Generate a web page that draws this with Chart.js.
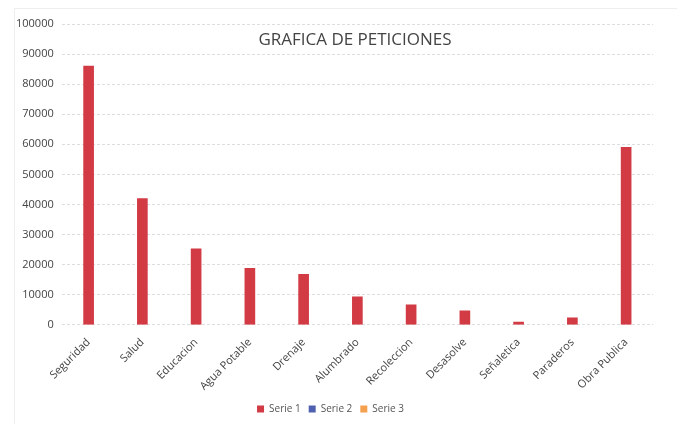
<!DOCTYPE html>
<html lang="es">
<head>
<meta charset="UTF-8">
<title>Grafica de peticiones</title>
<style>
  body { margin: 0; background: #fff; }
  .marco { position: relative; width: 681px; height: 428px; }
  .marco::before { content: ""; position: absolute; left: 14px; top: 8px; right: 4px; bottom: 4px; border-left: 1px solid #eee; border-top: 1px solid #eee; }
</style>
</head>
<body>
<div class="marco">
  <canvas id="grafica" width="681" height="428"></canvas>
</div>

<script src="https://cdn.jsdelivr.net/npm/chart.js"></script>
<script>
  const categorias = ['Seguridad', 'Salud', 'Educacion', 'Agua Potable', 'Drenaje', 'Alumbrado', 'Recoleccion', 'Desasolve', 'Señaletica', 'Paraderos', 'Obra Publica'];
  const serie1 = [86000, 42000, 25300, 18800, 16800, 9300, 6700, 4700, 900, 2300, 59000];
  const serie2 = [null, null, null, null, null, null, null, null, null, null, null];
  const serie3 = [null, null, null, null, null, null, null, null, null, null, null];
  const ticksY = [0, 10000, 20000, 30000, 40000, 50000, 60000, 70000, 80000, 90000, 100000];

  // titulo dentro del area del grafico
  const tituloPlugin = {
    id: 'tituloDentro',
    afterDraw(chart) {
      const c = chart.ctx;
      c.save();
      c.font = '17px "Open Sans", sans-serif';
      c.fillStyle = '#444';
      c.textAlign = 'center';
      c.textBaseline = 'middle';
      c.fillText('GRAFICA DE PETICIONES', 355, 40);
      c.restore();
    }
  };

  new Chart(document.getElementById('grafica'), {
    type: 'bar',
    data: {
      labels: categorias,
      datasets: [
        { label: 'Serie 1', data: serie1, backgroundColor: '#d23a44', grouped: false, barThickness: 10 },
        { label: 'Serie 2', data: serie2, backgroundColor: '#5060b0', grouped: false, barThickness: 10 },
        { label: 'Serie 3', data: serie3, backgroundColor: '#f5a04e', grouped: false, barThickness: 10 }
      ]
    },
    plugins: [tituloPlugin],
    options: {
      responsive: false,
      animation: false,
      layout: { padding: { top: 24, right: 28, left: 8, bottom: 4 } },
      plugins: {
        title: { display: false },
        tooltip: { enabled: false },
        legend: {
          position: 'bottom',
          labels: {
            boxWidth: 7, boxHeight: 7, padding: 8,
            color: '#555',
            font: { family: '"Open Sans", sans-serif', size: 10 }
          }
        }
      },
      scales: {
        x: {
          grid: { display: false },
          border: { display: false },
          ticks: {
            minRotation: 45, maxRotation: 45,
            color: '#444',
            font: { family: '"Open Sans", sans-serif', size: 11 }
          }
        },
        y: {
          min: 0, max: 100000,
          afterBuildTicks(axis) { axis.ticks = ticksY.map(v => ({ value: v })); },
          grid: { color: '#ddd', borderDash: [3, 2], drawTicks: false },
          border: { display: false, dash: [3, 2] },
          ticks: {
            padding: 8,
            color: '#444',
            font: { family: '"Open Sans", sans-serif', size: 11 },
            callback: v => String(v)
          }
        }
      }
    }
  });
</script>
</body>
</html>
